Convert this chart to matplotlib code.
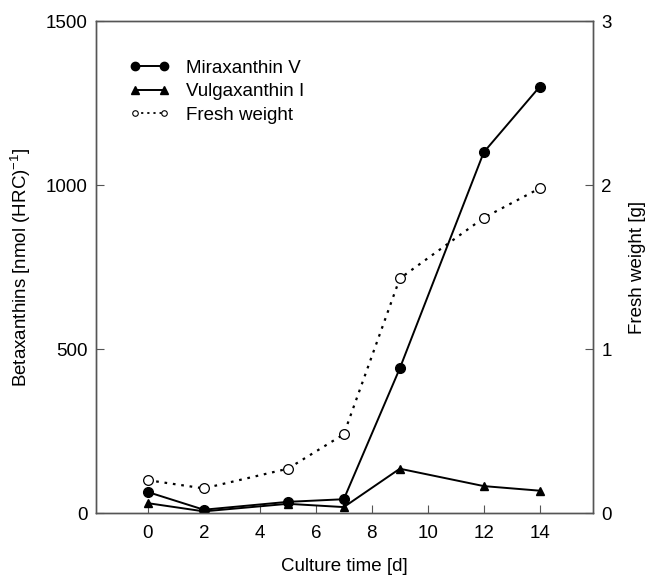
import numpy as np
import matplotlib
matplotlib.use("Agg")
import matplotlib.pyplot as plt
from matplotlib.lines import Line2D

plt.rcParams['font.family'] = ['Liberation Sans', 'DejaVu Sans']
plt.rcParams['font.size'] = 13.5
plt.rcParams['mathtext.fontset'] = 'custom'
plt.rcParams['mathtext.rm'] = 'Liberation Sans'
plt.rcParams['mathtext.default'] = 'regular'

# culture time [d]
days = [0, 2, 5, 7, 9, 12, 14]
# betaxanthins [nmol (HRC)^-1]
miraxanthin = [64, 10, 34, 42, 441, 1100, 1300]
vulgaxanthin = [30, 5, 28, 18, 135, 82, 68]
# fresh weight [g]
fresh_weight = [0.20, 0.15, 0.27, 0.48, 1.43, 1.80, 1.98]

x_ticks = [0, 2, 4, 6, 8, 10, 12, 14]
left_ticks = [0, 500, 1000, 1500]
right_ticks = [0, 1, 2, 3]

fig = plt.figure(figsize=(6.47, 5.77), dpi=100)
ax = fig.add_axes([96 / 647, 1 - 513 / 577, (593 - 96) / 647, (513 - 21) / 577])
ax2 = ax.twinx()

spine_col = '#555555'

ax.plot(days, miraxanthin, color='black', lw=1.4, marker='o', ms=7,
        mfc='black', mec='black', label='Miraxanthin V', zorder=3)
ax.plot(days, vulgaxanthin, color='black', lw=1.4, marker='^', ms=6,
        mfc='black', mec='black', label='Vulgaxanthin I', zorder=3)
ax2.plot(days, fresh_weight, color='black', lw=1.6, ls=(0, (1.2, 2.6)),
         marker='o', ms=7, mfc='white', mec='black', mew=0.9)

ax.set_xlim(-1.85, 15.9)
ax.set_ylim(0, 1500)
ax2.set_ylim(0, 3)

ax.set_xticks(x_ticks)
ax.set_yticks(left_ticks)
ax2.set_yticks(right_ticks)

for a in (ax, ax2):
    for s in a.spines.values():
        s.set_color(spine_col)
        s.set_linewidth(1.0)
ax.tick_params(axis='x', direction='in', length=6, color=spine_col, pad=9, top=False)
ax.tick_params(axis='y', direction='in', length=6, color=spine_col, pad=6)
ax2.tick_params(axis='y', direction='in', length=6, color=spine_col, pad=6)

ax.set_xlabel('Culture time [d]', labelpad=11)
ax.set_ylabel('Betaxanthins [nmol (HRC)$^{-1}$]', labelpad=9)
ax2.set_ylabel('Fresh weight [g]', labelpad=12)

handles = [
    Line2D([], [], color='black', lw=1.4, marker='o', ms=6, mfc='black'),
    Line2D([], [], color='black', lw=1.4, marker='^', ms=5.5, mfc='black'),
    Line2D([], [], color='black', lw=1.3, ls=(0, (1.2, 2.2)), marker='o', ms=4,
           mfc='white', mec='black', mew=0.8),
]
labels = ['Miraxanthin V', 'Vulgaxanthin I', 'Fresh weight']
ax2.legend(handles, labels, loc='upper left', bbox_to_anchor=(0.068, 0.922),
           frameon=False, numpoints=2, borderpad=0, borderaxespad=0,
           handlelength=2.1, handletextpad=0.9, labelspacing=0.35)

fig.savefig('out.png', dpi=100)
